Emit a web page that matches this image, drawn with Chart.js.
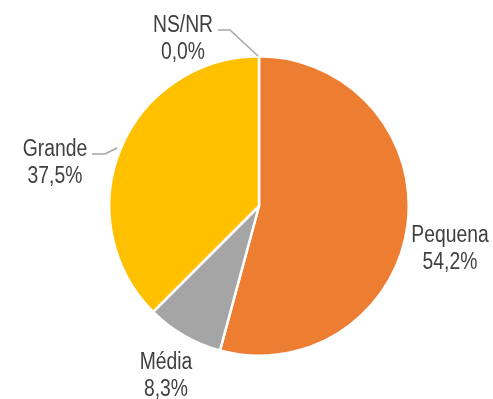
<!DOCTYPE html>
<html>
<head>
<meta charset="utf-8">
<script src="https://cdn.jsdelivr.net/npm/chart.js@4/dist/chart.umd.min.js"></script>
<style>
  html, body { margin: 0; padding: 0; background: #fff; }
  #wrap { width: 493px; height: 399px; }
</style>
</head>
<body>
<div id="wrap"><canvas id="pieChart" width="493" height="399"></canvas></div>
<script>
const categories = ['Pequena', 'Média', 'Grande', 'NS/NR'];
const shares = [54.2, 8.3, 37.5, 0.0];
const sliceColors = ['#ED7D31', '#A5A5A5', '#FFC000', '#FFFFFF'];

// label anchor (first baseline, offset from pie centre) and leader line points
const labelLayout = [
  { dx: 191, dy: 36, line: null },
  { dx: -93, dy: 163, line: null },
  { dx: -204, dy: -50, line: [[-167, -52], [-154, -52], [-142, -58]] },
  { dx: -76, dy: -174, line: [[-41, -176], [-29, -176], [-1, -150]] },
];

const fmt = (v) => v.toFixed(1).replace('.', ',') + '%';

const outsideLabels = {
  id: 'outsideLabels',
  afterDatasetsDraw(chart) {
    const ctx = chart.ctx;
    const meta = chart.getDatasetMeta(0);
    const cx = meta.data[0].x, cy = meta.data[0].y;
    ctx.save();
    ctx.fillStyle = '#404040';
    ctx.textAlign = 'center';
    ctx.textBaseline = 'alphabetic';
    ctx.font = '23px "Liberation Sans", Arial, sans-serif';
    meta.data.forEach((arc, i) => {
      const pos = labelLayout[i];
      const x = cx + pos.dx, y = cy + pos.dy;
      // condensed text, like a narrow face
      ctx.save();
      ctx.translate(x, y);
      ctx.scale(0.84, 1);
      ctx.fillText(categories[i], 0, 0);
      ctx.fillText(fmt(shares[i]), 0, 27);
      ctx.restore();
      if (pos.line) {
        ctx.strokeStyle = '#A6A6A6';
        ctx.lineWidth = 1.5;
        ctx.beginPath();
        pos.line.forEach(([px, py], k) => {
          if (k === 0) ctx.moveTo(cx + px, cy + py);
          else ctx.lineTo(cx + px, cy + py);
        });
        ctx.stroke();
      }
    });
    ctx.restore();
  },
};

const ctx = document.getElementById('pieChart').getContext('2d');
new Chart(ctx, {
  type: 'pie',
  data: {
    labels: categories,
    datasets: [{
      data: shares,
      backgroundColor: sliceColors,
      borderColor: '#FFFFFF',
      borderWidth: 2.5,
      hoverOffset: 0,
    }],
  },
  options: {
    responsive: false,
    animation: false,
    layout: { padding: { top: 55, bottom: 42, left: 108, right: 83 } },
    plugins: {
      legend: { display: false },
      tooltip: { enabled: false },
    },
  },
  plugins: [outsideLabels],
});
</script>
</body>
</html>
